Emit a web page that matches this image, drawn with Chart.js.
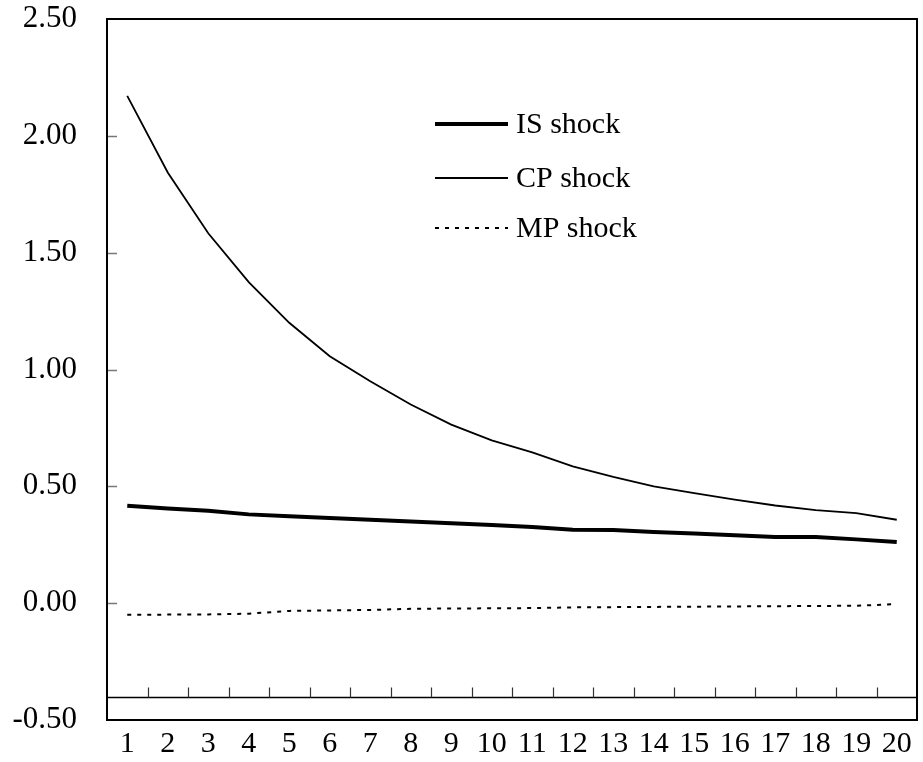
<!DOCTYPE html>
<html>
<head>
<meta charset="utf-8">
<script src="https://cdn.jsdelivr.net/npm/chart.js@4.4.1/dist/chart.umd.min.js"></script>
<style>
  html, body { margin: 0; padding: 0; background: #fff; }
</style>
</head>
<body>
<canvas id="irf" width="923" height="762"></canvas>
<script>
// impulse responses, periods 1..20
const periods = ['1','2','3','4','5','6','7','8','9','10','11','12','13','14','15','16','17','18','19','20'];
const isShock = [0.417, 0.405, 0.396, 0.380, 0.372, 0.365, 0.357, 0.350, 0.342, 0.334, 0.326, 0.314, 0.313, 0.305, 0.298, 0.291, 0.283, 0.283, 0.273, 0.262];
const cpShock = [2.171, 1.843, 1.583, 1.374, 1.200, 1.057, 0.950, 0.850, 0.764, 0.697, 0.645, 0.585, 0.540, 0.500, 0.471, 0.443, 0.418, 0.398, 0.385, 0.357];
const mpShock = [-0.050, -0.049, -0.048, -0.045, -0.033, -0.031, -0.029, -0.024, -0.023, -0.022, -0.021, -0.018, -0.017, -0.016, -0.015, -0.014, -0.013, -0.012, -0.011, -0.004];
const yInnerTicks = [0, 0.5, 1.0, 1.5, 2.0];
const AXIS_CROSS = -0.4;   // horizontal axis sits at -0.40

const FONT = 'Liberation Serif, Times New Roman, serif';

// frame, inner y ticks, crossing axis with ticks between categories
const framePlugin = {
  id: 'frame',
  beforeDatasetsDraw(chart) {
    const { ctx, chartArea: a, scales } = chart;
    ctx.save();
    // y ticks pointing inward
    ctx.strokeStyle = '#777';
    ctx.lineWidth = 1.5;
    yInnerTicks.forEach(v => {
      const y = Math.round(scales.y.getPixelForValue(v)) + 0.5;
      ctx.beginPath();
      ctx.moveTo(a.left, y);
      ctx.lineTo(a.left + 10, y);
      ctx.stroke();
    });
    // horizontal axis line at -0.4
    const y0 = Math.round(scales.y.getPixelForValue(AXIS_CROSS)) + 0.5;
    ctx.strokeStyle = '#000';
    ctx.lineWidth = 1.5;
    ctx.beginPath();
    ctx.moveTo(a.left, y0);
    ctx.lineTo(a.right, y0);
    ctx.stroke();
    ctx.strokeStyle = '#333';
    ctx.lineWidth = 1.2;
    for (let i = 0; i < periods.length - 1; i++) {
      const x = Math.round((scales.x.getPixelForValue(i) + scales.x.getPixelForValue(i + 1)) / 2) + 0.5;
      ctx.beginPath();
      ctx.moveTo(x, y0);
      ctx.lineTo(x, y0 - 10);
      ctx.stroke();
    }
    ctx.restore();
  },
  afterDraw(chart) {
    const { ctx, chartArea: a } = chart;
    ctx.save();
    ctx.strokeStyle = '#000';
    ctx.lineWidth = 2;
    ctx.strokeRect(a.left, a.top, a.right - a.left, a.bottom - a.top);

    // legend
    const items = [
      { label: 'IS shock', width: 4, dash: [] },
      { label: 'CP shock', width: 1.8, dash: [] },
      { label: 'MP shock', width: 2, dash: [4, 6] }
    ];
    const ys = [124, 178, 228];
    ctx.font = '30px ' + FONT;
    ctx.fillStyle = '#000';
    ctx.textBaseline = 'middle';
    items.forEach((it, i) => {
      ctx.lineWidth = it.width;
      ctx.setLineDash(it.dash);
      ctx.beginPath();
      ctx.moveTo(435, ys[i]);
      ctx.lineTo(508, ys[i]);
      ctx.stroke();
      ctx.setLineDash([]);
      ctx.fillText(it.label, 516, ys[i] + 1);
    });
    ctx.restore();
  }
};

new Chart(document.getElementById('irf'), {
  type: 'line',
  data: {
    labels: periods,
    datasets: [
      { label: 'IS shock', data: isShock, borderColor: '#000', borderWidth: 4, pointRadius: 0, tension: 0 },
      { label: 'CP shock', data: cpShock, borderColor: '#000', borderWidth: 1.8, pointRadius: 0, tension: 0 },
      { label: 'MP shock', data: mpShock, borderColor: '#000', borderWidth: 2, borderDash: [4, 6], pointRadius: 0, tension: 0 }
    ]
  },
  options: {
    responsive: false,
    animation: false,
    devicePixelRatio: 1,
    layout: { padding: { top: 19, right: 6, left: 0, bottom: 0 } },
    plugins: { legend: { display: false }, tooltip: { enabled: false } },
    scales: {
      x: {
        offset: true,
        grid: { display: false },
        border: { display: false },
        ticks: { color: '#000', font: { family: FONT, size: 30 }, maxRotation: 0, autoSkip: false, padding: -2 },
        afterFit: s => { s.height = 42; s.paddingLeft = 0; s.paddingRight = 0; }
      },
      y: {
        min: -0.5, max: 2.5,
        grid: { display: false },
        border: { display: false },
        ticks: { stepSize: 0.5, color: '#000', font: { family: FONT, size: 31 }, padding: 22, callback: v => v.toFixed(2) },
        afterFit: s => { s.width = 107; s.paddingTop = 0; s.paddingBottom = 0; }
      }
    }
  },
  plugins: [framePlugin]
});
</script>
</body>
</html>
